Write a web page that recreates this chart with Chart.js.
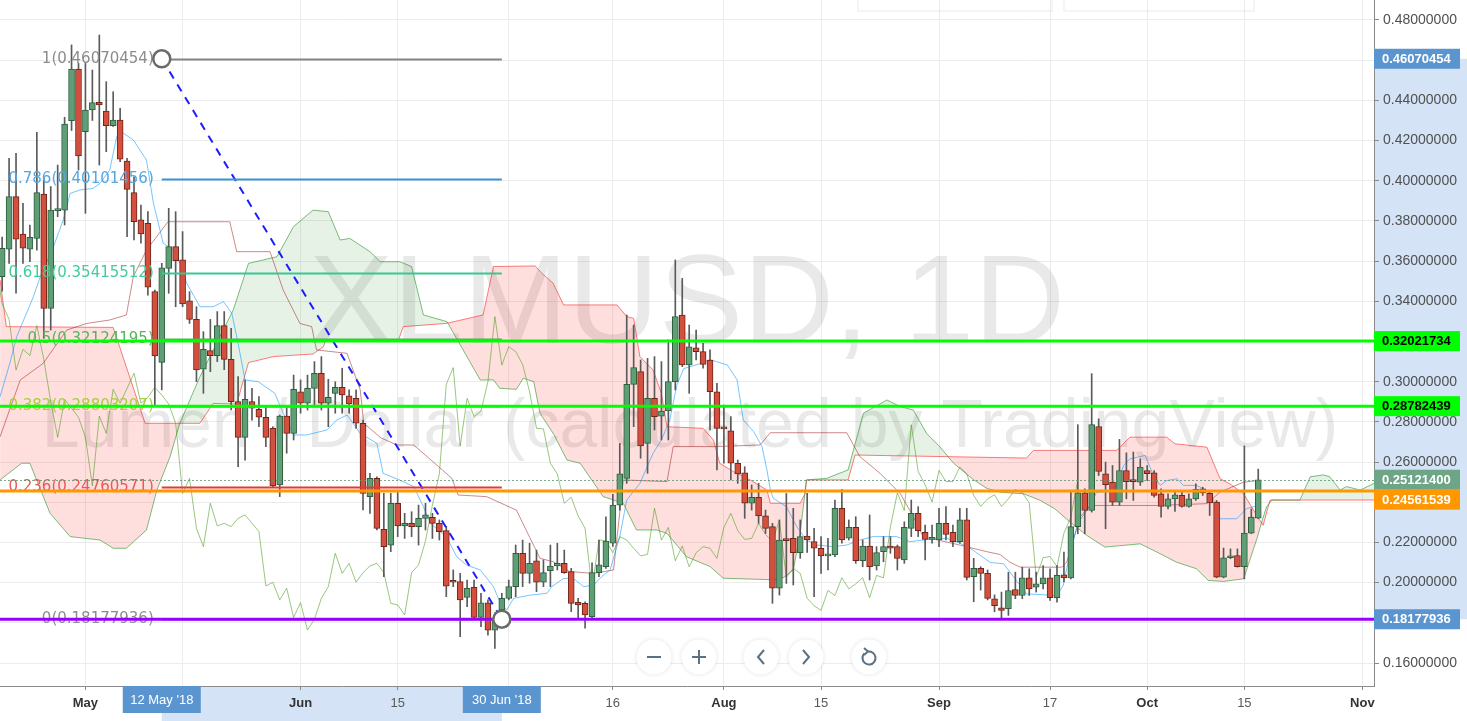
<!DOCTYPE html>
<html>
<head>
<meta charset="utf-8">
<title>XLMUSD, 1D</title>
<script src="https://cdn.jsdelivr.net/npm/chart.js@4.4.1/dist/chart.umd.min.js"></script>
<style>
  html, body { margin: 0; padding: 0; background: #fff; }
  canvas { display: block; }
</style>
</head>
<body>
<canvas id="chart" width="1467" height="721"></canvas>
<script>
// day numbers are counted from 1 May 2018 ; first candle = 19 Apr 2018
const firstDay = -12;

const open = [
  0.3523,0.3659,0.3921,0.3735,0.3659,0.3713,0.3934,0.3365,0.3851,0.3854,
  0.4299,0.4556,0.4244,0.4352,0.4390,0.4347,0.4274,0.4302,0.4098,0.3941,
  0.3805,0.3788,0.3448,0.3096,0.3564,0.3672,0.3606,0.3403,0.3310,0.3062,
  0.3155,0.3130,0.3279,0.3111,0.2901,0.2723,0.2901,0.2863,0.2823,0.2768,
  0.2486,0.2829,0.2743,0.2949,0.2893,0.2967,0.3042,0.2893,0.2942,0.2972,
  0.2930,0.2917,0.2793,0.2428,0.2519,0.2265,0.2187,0.2395,0.2282,0.2295,
  0.2279,0.2320,0.2325,0.2295,0.2259,0.2008,0.2005,0.1927,0.1977,0.1827,
  0.1900,0.1764,0.1864,0.1922,0.1980,0.2146,0.2046,0.2108,0.2002,0.2060,
  0.2083,0.2096,0.2055,0.1902,0.1897,0.1831,0.2050,0.2080,0.2196,0.2386,
  0.2519,0.2987,0.3050,0.2693,0.2917,0.2829,0.2854,0.3000,0.3332,0.3083,
  0.3169,0.3150,0.3108,0.2950,0.2771,0.2756,0.2594,0.2547,0.2395,0.2425,
  0.2332,0.2279,0.1972,0.2215,0.2220,0.2149,0.2232,0.2204,0.2171,0.2133,
  0.2138,0.2370,0.2221,0.2275,0.2109,0.2182,0.2083,0.2154,0.2182,0.2179,
  0.2113,0.2270,0.2345,0.2250,0.2215,0.2212,0.2295,0.2250,0.2204,0.2312,
  0.2030,0.2071,0.2046,0.1920,0.1875,0.1870,0.1966,0.1936,0.2024,0.1978,
  0.1994,0.2024,0.1925,0.2039,0.2024,0.2279,0.2447,0.2359,0.2777,0.2542,
  0.2500,0.2401,0.2558,0.2508,0.2500,0.2558,0.2547,0.2442,0.2379,0.2417,
  0.2434,0.2379,0.2417,0.2467,0.2445,0.2401,0.2027,0.2124,0.2135,0.2080,
  0.2246,0.2321
];
const high = [
  0.3720,0.4112,0.4136,0.3888,0.3780,0.4241,0.4012,0.3971,0.4078,0.4316,
  0.4676,0.4584,0.4584,0.4551,0.4725,0.4493,0.4443,0.4360,0.4112,0.4020,
  0.3879,0.3846,0.3456,0.3589,0.3863,0.3846,0.3747,0.3448,0.3373,0.3249,
  0.3310,0.3349,0.3349,0.3266,0.3025,0.3009,0.2967,0.2926,0.2876,0.2776,
  0.2834,0.2876,0.3033,0.3009,0.3033,0.3100,0.3125,0.3012,0.3000,0.3067,
  0.2959,0.2959,0.2809,0.2544,0.2527,0.2444,0.2444,0.2453,0.2345,0.2353,
  0.2386,0.2395,0.2345,0.2312,0.2279,0.2063,0.2046,0.2013,0.2013,0.1947,
  0.1914,0.1850,0.1947,0.2013,0.2187,0.2212,0.2196,0.2162,0.2113,0.2187,
  0.2196,0.2162,0.2071,0.1922,0.1905,0.2099,0.2212,0.2328,0.2440,0.2693,
  0.3332,0.3282,0.3108,0.3116,0.3125,0.3100,0.3208,0.3606,0.3514,0.3282,
  0.3257,0.3191,0.3158,0.2992,0.2884,0.2826,0.2610,0.2577,0.2486,0.2494,
  0.2361,0.2295,0.2312,0.2444,0.2370,0.2312,0.2444,0.2270,0.2229,0.2221,
  0.2411,0.2464,0.2312,0.2328,0.2212,0.2337,0.2179,0.2229,0.2229,0.2187,
  0.2303,0.2411,0.2378,0.2287,0.2287,0.2370,0.2378,0.2287,0.2370,0.2370,
  0.2121,0.2079,0.2063,0.1939,0.1953,0.2052,0.2052,0.2077,0.2069,0.2052,
  0.2085,0.2069,0.2085,0.2152,0.2459,0.2786,0.2467,0.3040,0.2815,0.2600,
  0.2583,0.2713,0.2646,0.2650,0.2616,0.2583,0.2558,0.2467,0.2442,0.2459,
  0.2459,0.2442,0.2492,0.2475,0.2459,0.2409,0.2172,0.2168,0.2168,0.2680,
  0.2367,0.2565
];
const low = [
  0.3450,0.3589,0.3440,0.3589,0.3597,0.3655,0.3216,0.3257,0.3821,0.3780,
  0.4250,0.4053,0.3838,0.4300,0.4078,0.4145,0.4270,0.4095,0.3722,0.3705,
  0.3689,0.3431,0.2876,0.2959,0.3440,0.3373,0.3373,0.3290,0.3000,0.2942,
  0.3050,0.3100,0.3060,0.2860,0.2577,0.2610,0.2809,0.2776,0.2677,0.2474,
  0.2428,0.2644,0.2710,0.2843,0.2859,0.2876,0.2859,0.2776,0.2843,0.2843,
  0.2843,0.2768,0.2362,0.2345,0.2262,0.2030,0.2154,0.2229,0.2220,0.2229,
  0.2187,0.2262,0.2220,0.2212,0.1930,0.1980,0.1731,0.1880,0.1822,0.1781,
  0.1739,0.1673,0.1847,0.1914,0.1930,0.1980,0.1997,0.1955,0.1980,0.1980,
  0.2063,0.2046,0.1856,0.1817,0.1773,0.1822,0.2030,0.2071,0.2180,0.2360,
  0.2494,0.2776,0.2619,0.2544,0.2760,0.2710,0.2710,0.2959,0.3075,0.2942,
  0.3108,0.3067,0.2760,0.2561,0.2594,0.2511,0.2494,0.2320,0.2361,0.2295,
  0.2245,0.1897,0.1938,0.1996,0.1988,0.2121,0.2150,0.1930,0.2046,0.2063,
  0.2129,0.2196,0.2212,0.2096,0.2079,0.2013,0.2063,0.2104,0.2146,0.2063,
  0.2096,0.2229,0.2229,0.2113,0.2196,0.2179,0.2212,0.2179,0.2196,0.2013,
  0.1905,0.1963,0.1914,0.1855,0.1820,0.1837,0.1920,0.1920,0.1936,0.1953,
  0.1969,0.1911,0.1903,0.2003,0.2019,0.2243,0.2243,0.2351,0.2533,0.2268,
  0.2384,0.2384,0.2417,0.2409,0.2484,0.2508,0.2425,0.2326,0.2367,0.2354,
  0.2376,0.2376,0.2409,0.2434,0.2334,0.2024,0.2024,0.2119,0.2077,0.2019,
  0.2243,0.2318
];
const close = [
  0.3664,0.3921,0.3709,0.3664,0.3718,0.3941,0.3365,0.3854,0.3859,0.4282,
  0.4556,0.4123,0.4352,0.4389,0.4377,0.4274,0.4302,0.4107,0.3957,0.3796,
  0.3735,0.3470,0.3128,0.3567,0.3672,0.3602,0.3387,0.3310,0.3058,0.3161,
  0.3130,0.3279,0.3111,0.2901,0.2723,0.2912,0.2868,0.2823,0.2723,0.2481,
  0.2829,0.2743,0.2962,0.2893,0.2967,0.3042,0.2893,0.2922,0.2972,0.2934,
  0.2889,0.2793,0.2444,0.2519,0.2270,0.2179,0.2395,0.2282,0.2295,0.2279,
  0.2320,0.2337,0.2295,0.2254,0.1983,0.2002,0.1914,0.1972,0.1827,0.1900,
  0.1764,0.1818,0.1922,0.1980,0.2146,0.2046,0.2096,0.2002,0.2050,0.2083,
  0.2096,0.2050,0.1897,0.1889,0.1839,0.2050,0.2088,0.2207,0.2386,0.2541,
  0.2987,0.3070,0.2680,0.2917,0.2826,0.2854,0.3000,0.3324,0.3083,0.3174,
  0.3150,0.3086,0.2950,0.2768,0.2765,0.2594,0.2541,0.2395,0.2425,0.2332,
  0.2270,0.1972,0.2212,0.2209,0.2149,0.2229,0.2212,0.2171,0.2133,0.2141,
  0.2370,0.2212,0.2275,0.2109,0.2182,0.2079,0.2149,0.2179,0.2171,0.2121,
  0.2275,0.2345,0.2259,0.2215,0.2220,0.2295,0.2240,0.2204,0.2312,0.2026,
  0.2071,0.2046,0.1922,0.1885,0.1862,0.1961,0.1936,0.2024,0.1969,0.1994,
  0.2024,0.1925,0.2036,0.2024,0.2279,0.2447,0.2359,0.2786,0.2553,0.2487,
  0.2401,0.2558,0.2503,0.2503,0.2575,0.2542,0.2434,0.2379,0.2417,0.2437,
  0.2379,0.2417,0.2464,0.2447,0.2397,0.2027,0.2124,0.2130,0.2080,0.2246,
  0.2326,0.251214
];

const tenkan = [
  [-12.3,0.2925],[-10.9,0.3091],[-9.9,0.3224],[-7.5,0.3423],[-6.5,0.3523],[-4.6,0.3672],
  [-3.2,0.3805],[-2.2,0.3937],[-0.8,0.3954],[1.1,0.3962],[2.1,0.3987],[3.5,0.4053],
  [4.5,0.4219],[5.5,0.4236],[6.9,0.4203],[8.8,0.4103],[9.8,0.3888],[11.2,0.3689],
  [12.7,0.3655],[13.6,0.3589],[14.6,0.3490],[16.5,0.3373],[18.4,0.3373],[19.9,0.3398],
  [21.1,0.3340],[22,0.3191],[23,0.3009],[24.9,0.3000],[27.3,0.2942],[28.5,0.2843],
  [30,0.2735],[31.9,0.2735],[34.8,0.2760],[36.2,0.2809],[37.7,0.2834],[39.6,0.2743],
  [42,0.2693],[42.9,0.2544],[45.3,0.2510],[47.3,0.2478],[48.7,0.2378],[49.7,0.2295],
  [52,0.2229],[53.5,0.2129],[54.9,0.2088],[56.9,0.2063],[58.8,0.1980],[59.7,0.1905],
  [60.7,0.1864],[61.7,0.1922],[64.1,0.1938],[66.5,0.1947],[67.2,0.1980],[68.9,0.2021],
  [70.3,0.2021],[71.8,0.1980],[73.2,0.1988],[74.4,0.2030],[75.6,0.2063],[77,0.2229],
  [78,0.2411],[79.9,0.2494],[81.8,0.2644],[83,0.2710],[84.2,0.2809],[85.2,0.2980],
  [86.2,0.3065],[88.6,0.3090],[90,0.3110],[92.5,0.3083],[93.9,0.3009],[94.8,0.2809],
  [96.3,0.2751],[97.5,0.2677],[98.2,0.2561],[98.7,0.2461],[99.1,0.2420],[101,0.2378],
  [102.5,0.2279],[103.9,0.2212],[105.4,0.2187],[107.8,0.2179],[109.7,0.2187],[111.6,0.2212],
  [113.5,0.2229],[116.9,0.2229],[118.8,0.2204],[120.7,0.2212],[124.1,0.2221],[126,0.2196],
  [127.5,0.2171],[130.4,0.2100],[132.3,0.2094],[135.6,0.1944],[140,0.1936],[140.9,0.1986],
  [141.9,0.2152],[143.1,0.2301],[144.8,0.2384],[145.7,0.2450],[147.6,0.2454],[148.6,0.2484],
  [149.6,0.2583],[150.5,0.2616],[152.7,0.2633],[153.9,0.2533],[154.9,0.2484],[155.8,0.2508],
  [157.3,0.2517],[158.2,0.2484],[160.1,0.2484],[161.6,0.2459],[162.5,0.2417],[163.5,0.2318],
  [165.9,0.2318],[167.3,0.2368],[169,0.2384]
];
const kijun = [
  [-12.3,0.2726],[-9.4,0.3008],[-6.1,0.3091],[-2.7,0.3257],[0.2,0.3290],[3.5,0.3307],
  [5.9,0.3332],[6.9,0.3523],[8.8,0.3655],[11.9,0.3796],[20.8,0.3796],[21.8,0.3647],
  [26.6,0.3647],[28.5,0.3456],[30.9,0.3290],[32.6,0.3274],[33.3,0.3158],[37.7,0.3141],
  [39.6,0.2959],[40.1,0.2793],[42.6,0.2720],[44.9,0.2685],[47.3,0.2685],[50.9,0.2577],
  [52.8,0.2519],[53.7,0.2436],[57.8,0.2428],[62.1,0.2361],[65.5,0.2121],[67.4,0.2104],
  [69.8,0.2055],[73.2,0.2046],[76.1,0.2063],[77.5,0.2511],[83.8,0.2503],[84.7,0.2677],
  [90.5,0.2677],[97.2,0.2685],[98.7,0.2746],[109.7,0.2746],[111.6,0.2627],[114.5,0.2544],
  [117.4,0.2444],[119.3,0.2328],[120.7,0.2229],[126,0.2187],[129.9,0.2154],[131.8,0.2140],
  [133.2,0.2102],[134.7,0.2077],[140.7,0.2077],[141.4,0.2102],[143.3,0.2326],[144.8,0.2384],
  [154.4,0.2384],[161.6,0.2393],[163.5,0.2451],[166.9,0.2500],[169,0.2508]
];
const senkouA = [
  [-12.3,0.2511],[-9.2,0.2594],[-8,0.2594],[-5.1,0.2345],[-2.2,0.2229],[2.1,0.2212],
  [4,0.2171],[5.9,0.2171],[8.8,0.2262],[10.3,0.2461],[12.2,0.2627],[13.6,0.2793],
  [16.5,0.3025],[21.3,0.3357],[23.5,0.3589],[27.6,0.3622],[30,0.3772],[32.8,0.3854],
  [35,0.3846],[36.7,0.3705],[38.1,0.3713],[41,0.3647],[42.5,0.3597],[45.3,0.3597],
  [47,0.3573],[48.7,0.3332],[52.1,0.3299],[56.9,0.3008],[58.8,0.3009],[59.7,0.2967],
  [62.1,0.2962],[63.1,0.3017],[64.6,0.3000],[65.5,0.2843],[67.4,0.2743],[69.4,0.2610],
  [71.3,0.2594],[74.6,0.2428],[77.5,0.2395],[79.4,0.2262],[82.3,0.2262],[83.8,0.2245],
  [86.6,0.2129],[90,0.2080],[91.9,0.2022],[100.1,0.2013],[102,0.2063],[103,0.2245],
  [103.9,0.2511],[106.8,0.2519],[109.9,0.2561],[112.1,0.2843],[115.5,0.2909],[117.4,0.2876],
  [119.3,0.2859],[121.2,0.2743],[123.1,0.2677],[125.1,0.2594],[128,0.2511],[129.9,0.2469],
  [131.8,0.2450],[135.2,0.2442],[137.6,0.2409],[139.7,0.2367],[141.9,0.2301],[144.3,0.2235],
  [146.9,0.2177],[152,0.2193],[154.4,0.2152],[157.2,0.2102],[160.1,0.2069],[161.8,0.2011],
  [164,0.2006],[166.9,0.2019],[168.8,0.2218],[169.5,0.2301],[170.2,0.2378],[171,0.2411],
  [175,0.2411],[176.5,0.2527],[178.4,0.2536],[179.3,0.2527],[180.8,0.2461],[181.7,0.2478],
  [183.7,0.2461],[185.7,0.2494]
];
const senkouB = [
  [-12.3,0.3506],[-11.4,0.3274],[4,0.3270],[8.6,0.2793],[16.5,0.2793],[18.4,0.2892],
  [21.8,0.2889],[23.5,0.3095],[27.1,0.3125],[32.8,0.3138],[34.3,0.3174],[34.6,0.3205],
  [45.1,0.3207],[45.8,0.3274],[52,0.3290],[57.3,0.3332],[58.8,0.3573],[64.8,0.3576],
  [65.8,0.3539],[67.4,0.3490],[68.9,0.3382],[76.6,0.3382],[78,0.3324],[79,0.3315],
  [79.9,0.3125],[81.8,0.3058],[83,0.2942],[83.8,0.2776],[89,0.2768],[90.5,0.2710],
  [91.4,0.2594],[93.4,0.2552],[95.8,0.2511],[98.2,0.2461],[98.7,0.2395],[103,0.2395],
  [103.7,0.2444],[103.9,0.2511],[109.9,0.2511],[110.9,0.2635],[135.6,0.2620],[136.6,0.2658],
  [148.6,0.2658],[150.5,0.2724],[155.8,0.2724],[157,0.2691],[161.6,0.2674],[163.5,0.2517],
  [164.9,0.2492],[166.9,0.2442],[168.8,0.2334],[169.7,0.2285],[170.7,0.2411],[185.7,0.2411]
];
const chikouShift = 26;

// fibonacci retracement drawn from 12 May to 30 Jun
const fibRatios = ['1', '0.786', '0.618', '0.5', '0.382', '0.236', '0'];
const fibPrices = [0.46070454, 0.40101456, 0.35415512, 0.32124195, 0.28803207, 0.24760571, 0.18177936];
const fibLineColors = ['#858585', '#3d92d4', '#38c794', '#4caf50', '#8bc34a', '#e53935', '#858585'];
const fibTextColors = ['#8c8c8c', '#55a7e0', '#3fcf98', '#56b45a', '#a6cf3e', '#e85a5a', '#8c8c8c'];
const fibStartDay = 11;
const fibEndDay = 60;

// horizontal levels
const levelPrices = [0.32021734, 0.28782439, 0.24561539, 0.18177936];
const levelColors = ['#00ff00', '#00ff00', '#ff9800', '#9b00ff'];
const lastPrice = 0.251214;

// axis
const tickDays = [0, 14, 31, 45, 61, 76, 92, 106, 123, 139, 153, 167, 184];
const tickLabels = ['May', '', 'Jun', '15', '', '16', 'Aug', '15', 'Sep', '17', 'Oct', '15', 'Nov'];
const monthLabels = ['May', 'Jun', 'Aug', 'Sep', 'Oct', 'Nov'];
const priceTicks = [0.16, 0.18, 0.20, 0.22, 0.24, 0.26, 0.28, 0.30, 0.32, 0.34, 0.36, 0.38, 0.40, 0.42, 0.44, 0.46, 0.48];

const axisBoxes = [
  [0.46070454, '#5b95cf', '#ffffff'],
  [0.32021734, '#00ff00', '#000000'],
  [0.28782439, '#00ff00', '#000000'],
  [0.251214, '#6ea587', '#ffffff'],
  [0.24561539, '#ff9800', '#ffffff'],
  [0.18177936, '#5b95cf', '#ffffff']
];
const dateBoxes = [[11, "12 May '18"], [60, "30 Jun '18"]];

const upColor = '#5f9f76', upBorder = '#2f5e3e';
const downColor = '#d4503e', downBorder = '#6e2418';

const pairs = arr => arr.map(p => ({ x: p[0], y: p[1] }));
const isUp = i => close[i] >= open[i];

const wickData = open.map((_, i) => ({ x: firstDay + i, y: [low[i], high[i]] }));
const bodyData = open.map((_, i) => ({ x: firstDay + i, y: [open[i], close[i]] }));
const chikouData = close.map((c, i) => ({ x: firstDay + i - chikouShift, y: c }));

const lineBase = { type: 'line', borderWidth: 1, pointRadius: 0, tension: 0, clip: 0 };

const drawings = {
  id: 'drawings',
  beforeDraw(chart) {
    const { ctx, chartArea: a, scales: { x, y } } = chart;
    ctx.save();
    ctx.fillStyle = '#ffffff';
    ctx.fillRect(0, 0, chart.width, chart.height);
    // selection bands on both axes
    ctx.fillStyle = '#d5e3f7';
    const yTop = y.getPixelForValue(fibPrices[0]);
    const yBot = y.getPixelForValue(fibPrices[fibPrices.length - 1]);
    ctx.fillRect(a.right, yTop, chart.width - a.right, yBot - yTop);
    const xs = x.getPixelForValue(fibStartDay), xe = x.getPixelForValue(fibEndDay);
    ctx.fillRect(xs, a.bottom, xe - xs, chart.height - a.bottom);
    ctx.restore();
  },
  beforeDatasetsDraw(chart) {
    const { ctx, chartArea: a } = chart;
    ctx.save();
    ctx.fillStyle = 'rgba(110,110,110,0.15)';
    ctx.textAlign = 'center';
    ctx.textBaseline = 'middle';
    const cx = (a.left + a.right) / 2;
    ctx.font = "126px 'Liberation Sans', Arial, sans-serif";
    ctx.fillText('XLMUSD, 1D', cx, 308);
    ctx.font = "68px 'Liberation Sans', Arial, sans-serif";
    ctx.fillText('Lumen / Dollar (calculated by TradingView)', cx + 3, 428);
    ctx.restore();
  },
  afterDatasetsDraw(chart) {
    const { ctx, chartArea: a, scales: { x, y } } = chart;
    const xs = x.getPixelForValue(fibStartDay), xe = x.getPixelForValue(fibEndDay);
    ctx.save();
    ctx.beginPath();
    ctx.rect(a.left, a.top, a.width, a.height);
    ctx.clip();
    // fib levels
    fibPrices.forEach((p, i) => {
      const py = Math.round(y.getPixelForValue(p)) + 0.5;
      ctx.strokeStyle = fibLineColors[i];
      ctx.lineWidth = 2;
      ctx.beginPath();
      ctx.moveTo(xs, py);
      ctx.lineTo(xe, py);
      ctx.stroke();
      ctx.font = "15px 'DejaVu Sans', Verdana, sans-serif";
      ctx.textAlign = 'right';
      ctx.textBaseline = 'middle';
      ctx.fillStyle = fibTextColors[i];
      ctx.fillText(fibRatios[i] + '(' + p.toFixed(8) + ')', xs - 8, py);
    });
    // last price dotted line
    const ly = Math.round(y.getPixelForValue(lastPrice)) + 0.5;
    ctx.strokeStyle = 'rgba(90,150,110,0.8)';
    ctx.lineWidth = 1;
    ctx.setLineDash([2, 2]);
    ctx.beginPath();
    ctx.moveTo(a.left, ly);
    ctx.lineTo(a.right, ly);
    ctx.stroke();
    ctx.setLineDash([]);
    // horizontal levels
    levelPrices.forEach((p, i) => {
      const py = y.getPixelForValue(p);
      ctx.strokeStyle = levelColors[i];
      ctx.lineWidth = 3;
      ctx.beginPath();
      ctx.moveTo(a.left, py);
      ctx.lineTo(a.right, py);
      ctx.stroke();
    });
    // anchor circles
    [[fibStartDay, fibPrices[0]], [fibEndDay, fibPrices[fibPrices.length - 1]]].forEach(pt => {
      ctx.beginPath();
      ctx.arc(x.getPixelForValue(pt[0]), y.getPixelForValue(pt[1]), 8.5, 0, Math.PI * 2);
      ctx.fillStyle = '#ffffff';
      ctx.fill();
      ctx.lineWidth = 2.5;
      ctx.strokeStyle = '#6a6a6a';
      ctx.stroke();
    });
    ctx.restore();
  },
  afterDraw(chart) {
    const { ctx, chartArea: a, scales: { x, y } } = chart;
    ctx.save();
    // price boxes on the right axis
    ctx.font = "bold 13px 'Liberation Sans', Arial, sans-serif";
    ctx.textBaseline = 'middle';
    ctx.textAlign = 'left';
    const boxes = axisBoxes.map(b => ({ y: y.getPixelForValue(b[0]), b }))
      .sort((m, n) => m.y - n.y);
    let prevBottom = -100;
    boxes.forEach(item => {
      let top = item.y - 10;
      if (top < prevBottom) top = prevBottom;
      ctx.fillStyle = item.b[1];
      ctx.fillRect(a.right, top, 86, 20);
      ctx.fillStyle = item.b[2];
      ctx.fillText(item.b[0].toFixed(8), a.right + 8, top + 10.5);
      prevBottom = top + 20;
    });
    // date boxes on the time axis
    ctx.font = "13px 'Liberation Sans', Arial, sans-serif";
    ctx.textAlign = 'center';
    dateBoxes.forEach(d => {
      const cx = x.getPixelForValue(d[0]);
      ctx.fillStyle = '#5b95cf';
      ctx.fillRect(cx - 39, a.bottom, 78, 27);
      ctx.fillStyle = '#ffffff';
      ctx.fillText(d[1], cx, a.bottom + 14);
    });
    // faint toolbar at the top
    ctx.strokeStyle = 'rgba(0,0,0,0.04)';
    ctx.lineWidth = 2;
    ctx.strokeRect(858, -4, 194, 15);
    ctx.strokeRect(1064, -4, 190, 15);
    // navigation buttons
    const btnY = 657;
    [[654, 'minus'], [699, 'plus'], [761, 'left'], [806, 'right'], [869, 'reset']].forEach(bt => {
      const cx = bt[0];
      ctx.beginPath();
      ctx.arc(cx, btnY, 17.5, 0, Math.PI * 2);
      ctx.fillStyle = '#ffffff';
      ctx.shadowColor = 'rgba(0,0,0,0.12)';
      ctx.shadowBlur = 4;
      ctx.fill();
      ctx.shadowColor = 'transparent';
      ctx.shadowBlur = 0;
      ctx.strokeStyle = '#5d7080';
      ctx.lineWidth = 2;
      ctx.beginPath();
      if (bt[1] === 'minus') { ctx.moveTo(cx - 7, btnY); ctx.lineTo(cx + 7, btnY); }
      if (bt[1] === 'plus') {
        ctx.moveTo(cx - 7, btnY); ctx.lineTo(cx + 7, btnY);
        ctx.moveTo(cx, btnY - 7); ctx.lineTo(cx, btnY + 7);
      }
      if (bt[1] === 'left') { ctx.moveTo(cx + 3, btnY - 7); ctx.lineTo(cx - 3, btnY); ctx.lineTo(cx + 3, btnY + 7); }
      if (bt[1] === 'right') { ctx.moveTo(cx - 3, btnY - 7); ctx.lineTo(cx + 3, btnY); ctx.lineTo(cx - 3, btnY + 7); }
      ctx.stroke();
      if (bt[1] === 'reset') {
        ctx.beginPath();
        ctx.arc(cx, btnY + 1, 6.5, -Math.PI * 0.55, Math.PI * 1.25);
        ctx.stroke();
        ctx.beginPath();
        ctx.moveTo(cx - 5, btnY - 9);
        ctx.lineTo(cx - 1, btnY - 5.5);
        ctx.lineTo(cx - 5, btnY - 2);
        ctx.stroke();
      }
    });
    ctx.restore();
  }
};

Chart.defaults.font.family = "'Liberation Sans', Arial, sans-serif";

new Chart(document.getElementById('chart'), {
  type: 'bar',
  data: {
    datasets: [
      Object.assign({}, lineBase, { label: 'Lead 2', data: pairs(senkouB), borderColor: 'rgba(255,0,0,0.5)', order: 20 }),
      Object.assign({}, lineBase, {
        label: 'Lead 1', data: pairs(senkouA), borderColor: 'rgba(0,128,0,0.5)', order: 19,
        fill: { target: 0, above: 'rgba(0,128,0,0.1)', below: 'rgba(255,0,0,0.13)' }
      }),
      Object.assign({}, lineBase, { label: 'Lagging Span', data: chikouData, borderColor: 'rgba(69,153,21,0.55)', order: 18 }),
      Object.assign({}, lineBase, { label: 'Base Line', data: pairs(kijun), borderColor: 'rgba(153,21,21,0.5)', order: 17 }),
      Object.assign({}, lineBase, { label: 'Conversion Line', data: pairs(tenkan), borderColor: 'rgba(4,150,255,0.55)', order: 16 }),
      {
        type: 'bar', label: 'wick', data: wickData, order: 3, clip: 0,
        backgroundColor: '#5a5a5a', barThickness: 1, grouped: false
      },
      {
        type: 'bar', label: 'XLMUSD', data: bodyData, order: 2, clip: 0,
        backgroundColor: c => isUp(c.dataIndex) ? upColor : downColor,
        borderColor: c => isUp(c.dataIndex) ? upBorder : downBorder,
        borderWidth: 1, borderSkipped: false, barThickness: 6, minBarLength: 2, grouped: false
      },
      Object.assign({}, lineBase, {
        label: 'trend', order: 1, borderColor: '#1c1cff', borderWidth: 2, borderDash: [8, 7],
        data: [{ x: fibStartDay, y: fibPrices[0] }, { x: fibEndDay, y: fibPrices[fibPrices.length - 1] }]
      })
    ]
  },
  options: {
    responsive: false,
    animation: false,
    events: [],
    layout: { padding: 0 },
    plugins: { legend: { display: false }, tooltip: { enabled: false } },
    scales: {
      x: {
        type: 'linear',
        min: -12.31,
        max: 185.68,
        bounds: 'data',
        offset: false,
        grid: { color: '#ececec', offset: false, tickLength: 4, tickColor: '#888888' },
        border: { color: '#8a8a8a' },
        afterBuildTicks: s => { s.ticks = tickDays.map(v => ({ value: v })); },
        afterFit: s => { s.height = 35; s.paddingLeft = 0; s.paddingRight = 0; },
        ticks: {
          autoSkip: false, maxRotation: 0, minRotation: 0, padding: 6,
          callback: (v, i) => tickLabels[i],
          color: c => monthLabels.includes(tickLabels[c.index]) ? '#333333' : '#5a5a5a',
          font: c => ({ size: 13, weight: monthLabels.includes(tickLabels[c.index]) ? 'bold' : 'normal' })
        }
      },
      y: {
        type: 'linear',
        position: 'right',
        min: 0.14856,
        max: 0.48995,
        bounds: 'data',
        grid: { color: '#ececec', tickLength: 5, tickColor: '#888888' },
        border: { color: '#8a8a8a' },
        afterBuildTicks: s => { s.ticks = priceTicks.map(v => ({ value: v })); },
        afterFit: s => { s.width = 93; s.paddingTop = 0; s.paddingBottom = 0; },
        ticks: {
          autoSkip: false, padding: 4, color: '#505050', font: { size: 14 },
          callback: v => v.toFixed(8)
        }
      }
    }
  },
  plugins: [drawings]
});
</script>
</body>
</html>
